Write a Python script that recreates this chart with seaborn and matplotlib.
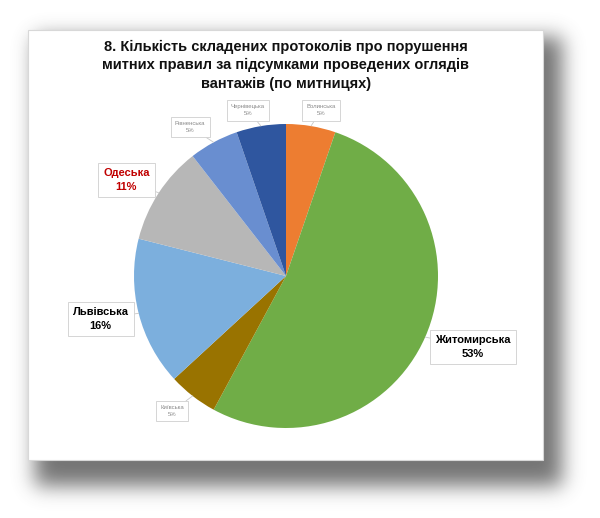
import numpy as np
import pandas as pd
import seaborn as sns
import matplotlib.pyplot as plt
from matplotlib.patches import Rectangle

# Data
customs = ['Волинська', 'Житомирська', 'Київська', 'Львівська',
           'Одеська', 'Рівненська', 'Чернівецька']
protocols = [1, 10, 1, 3, 2, 1, 1]
pct_labels = ['5%', '53%', '5%', '16%', '11%', '5%', '5%']
colors = ['#ED7D31', '#70AD47', '#997300', '#7CAFDD',
          '#B7B7B7', '#698ED0', '#2F569F']

title = ('8. Кількість складених протоколів про порушення\n'
         'митних правил за підсумками проведених оглядів\n'
         'вантажів (по митницях)')

df = pd.DataFrame({'customs': customs, 'n': protocols, 'pct': pct_labels})

sns.set_theme(style='white')
plt.rcParams['font.family'] = ['Liberation Sans', 'DejaVu Sans']

W, H = 600, 518
fig = plt.figure(figsize=(W / 100, H / 100), dpi=100)
fig.patch.set_facecolor('white')

# blurred drop shadow behind the white chart frame
bg = fig.add_axes([0, 0, 1, 1])
bg.set_axis_off()
yy, xx = np.mgrid[0:H, 0:W]
mask = ((xx > 34) & (xx < 562) & (yy > 36) & (yy < 486)).astype(float)
k = np.exp(-0.5 * (np.arange(-30, 31) / 10.0) ** 2)
k /= k.sum()
blur = np.apply_along_axis(lambda r: np.convolve(r, k, mode='same'), 1, mask)
blur = np.apply_along_axis(lambda c: np.convolve(c, k, mode='same'), 0, blur)
shade = np.ones((H, W, 4))
shade[..., :3] = 0.32
shade[..., 3] = blur * 0.8
bg.imshow(shade, extent=[0, W, H, 0], interpolation='bilinear')
bg.add_patch(Rectangle((28, 30), 515, 430, facecolor='white',
                       edgecolor='#d8d8d8', lw=0.8))
bg.set_xlim(0, W)
bg.set_ylim(H, 0)

fig.text(286 / W, 1 - 65 / H, title, ha='center', va='center',
         fontsize=10.5, fontweight='bold', linespacing=1.4, color='#111111')

# pie
cx, cy, r = 286, 276, 152
ax = fig.add_axes([(cx - r) / W, (H - cy - r) / H, 2 * r / W, 2 * r / H])
wedges, _ = ax.pie(df['n'], colors=colors, startangle=90, counterclock=False,
                   radius=1, wedgeprops=dict(linewidth=0))
ax.set_xlim(-1, 1)
ax.set_ylim(-1, 1)
ax.set_axis_off()

# label box positions (axes data coords) and style
label_pos = {
    'Волинська': (0.23, 1.09),
    'Житомирська': (1.23, -0.47),
    'Київська': (-0.75, -0.89),
    'Львівська': (-1.22, -0.28),
    'Одеська': (-1.05, 0.63),
    'Рівненська': (-0.63, 0.98),
    'Чернівецька': (-0.25, 1.09),
}
big = {'Житомирська': 'black', 'Львівська': 'black', 'Одеська': '#C00000'}

for w, row in zip(wedges, df.itertuples()):
    ang = np.deg2rad((w.theta1 + w.theta2) / 2)
    tip = (np.cos(ang), np.sin(ang))
    if row.customs in big:
        kw = dict(fontsize=8, fontweight='bold', color=big[row.customs])
        pad = 0.45
    else:
        kw = dict(fontsize=4.3, color='#8a8a8a')
        pad = 0.7
    ax.annotate(f'{row.customs}\n{row.pct}', xy=tip, xytext=label_pos[row.customs],
                ha='center', va='center', linespacing=1.5, annotation_clip=False,
                bbox=dict(boxstyle=f'square,pad={pad}', fc='white',
                          ec='#cfcfcf', lw=0.6),
                arrowprops=dict(arrowstyle='-', color='#c8c8c8', lw=0.6,
                                shrinkA=0, shrinkB=0),
                **kw)

plt.savefig('out.png', dpi=100)
